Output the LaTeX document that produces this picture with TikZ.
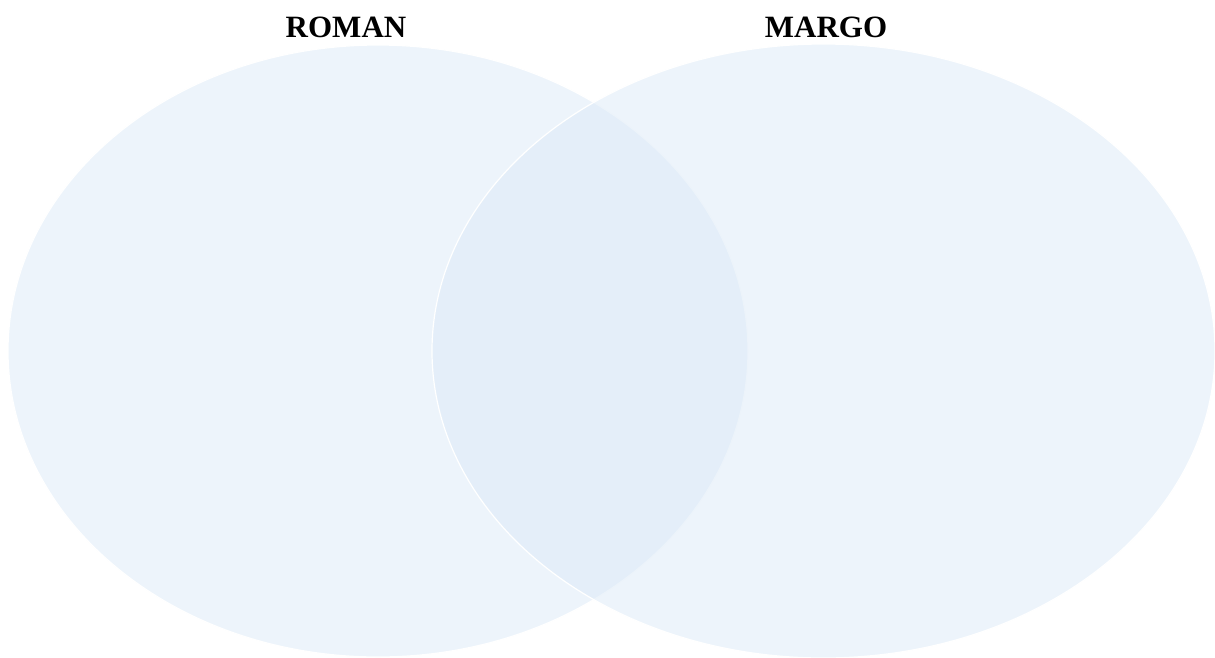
\documentclass[tikz,border=0pt]{standalone}
\usepackage{fontspec}
\setmainfont{Liberation Serif}
\usetikzlibrary{shapes.geometric}
\definecolor{cielo}{RGB}{219,233,247}
\tikzset{
  conj/.style={ellipse, draw=white, line width=1.2pt, fill=cielo, fill opacity=0.5, draw opacity=1, inner sep=0pt},
  titulo/.style={font=\fontsize{31}{36}\selectfont\bfseries, anchor=base, inner sep=0pt},
}
\begin{document}
\begin{tikzpicture}[x=1pt, y=-1pt]
  \useasboundingbox (0,0) rectangle (1215,657);
  \node[conj, minimum width=740pt, minimum height=612pt] (roman) at (378,351) {};
  \node[conj, minimum width=783pt, minimum height=614pt] (margo) at (823.5,351) {};
  \node[titulo] (troman) at (346,37) {ROMAN};
  \node[titulo] (tmargo) at (826,37) {MARGO};
\end{tikzpicture}
\end{document}
